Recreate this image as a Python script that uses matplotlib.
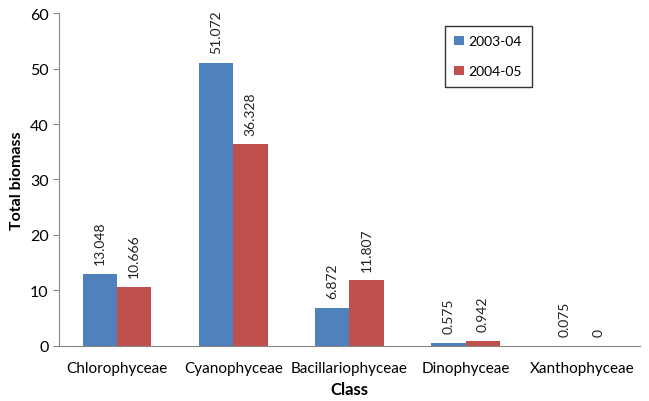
import numpy as np
import matplotlib
matplotlib.use('Agg')
import matplotlib.pyplot as plt

plt.rcParams['font.family'] = ['Lato', 'DejaVu Sans']

classes = ['Chlorophyceae', 'Cyanophyceae', 'Bacillariophyceae', 'Dinophyceae', 'Xanthophyceae']
biomass_2003 = [13.048, 51.072, 6.872, 0.575, 0.075]
biomass_2004 = [10.666, 36.328, 11.807, 0.942, 0]
labels_2003 = ['13.048', '51.072', '6.872', '0.575', '0.075']
labels_2004 = ['10.666', '36.328', '11.807', '0.942', '0']

blue = '#4F81BD'
red = '#C0504D'
bar_width = 0.295

x = np.arange(len(classes))
x1 = x - bar_width / 2
x2 = x + bar_width / 2

fig = plt.figure(figsize=(6.49, 4.02), dpi=100)
ax = fig.add_axes([0.091, 0.137, 0.895, 0.828])

ax.bar(x1, biomass_2003, width=bar_width, color=blue, label='2003-04')
ax.bar(x2, biomass_2004, width=bar_width, color=red, label='2004-05')

# value labels, rotated like the excel original
for xi, v, s in zip(x1, biomass_2003, labels_2003):
    ax.annotate(s, (xi, v), xytext=(0, 7), textcoords='offset points',
                rotation=90, ha='center', va='bottom', fontsize=10, color='#222222')
for xi, v, s in zip(x2, biomass_2004, labels_2004):
    ax.annotate(s, (xi, v), xytext=(0, 7), textcoords='offset points',
                rotation=90, ha='center', va='bottom', fontsize=10, color='#222222')

ax.set_xlim(-0.5, len(classes) - 0.5)
ax.set_ylim(0, 60)
ax.set_yticks(np.arange(0, 61, 10))
ax.set_xticks(x)
ax.set_xticklabels(classes, fontsize=11)
ax.tick_params(axis='x', length=0, pad=11)
ax.tick_params(axis='y', length=4, color='#868686', labelsize=11.5, direction='out')

for side in ['top', 'right']:
    ax.spines[side].set_visible(False)
for side in ['left', 'bottom']:
    ax.spines[side].set_color('#868686')

ax.set_xlabel('Class', fontsize=12, fontweight='bold', labelpad=4)
ax.set_ylabel('Total biomass', fontsize=11.5, fontweight='bold', labelpad=4)

leg = ax.legend(loc='upper left', bbox_to_anchor=(0.664, 0.962), fontsize=10,
                frameon=True, fancybox=False, edgecolor='black',
                handlelength=0.7, handleheight=0.7, handletextpad=0.3,
                labelspacing=1.3, borderpad=0.7, borderaxespad=0)
leg.get_frame().set_linewidth(1.0)

fig.savefig('out.png', dpi=100)
